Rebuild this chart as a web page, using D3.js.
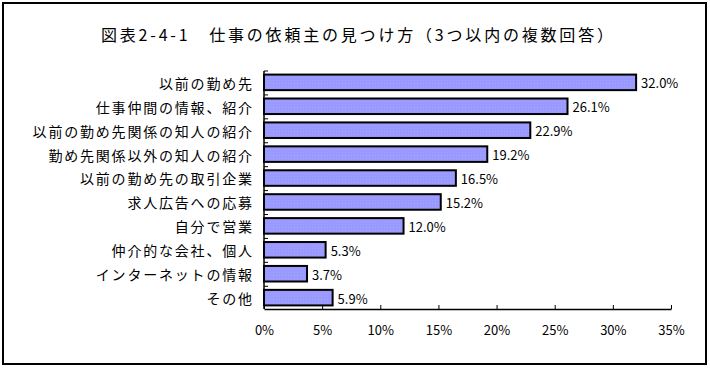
<!DOCTYPE html>
<html>
<head>
<meta charset="utf-8">
<script src="https://cdn.jsdelivr.net/npm/d3@7"></script>
<style>
  body { margin: 0; background: #fff; }
  text { font-family: "Noto Sans CJK JP", sans-serif; fill: #000; }
</style>
</head>
<body>
<div class="container"></div>
<script>
var categories = ["以前の勤め先", "仕事仲間の情報、紹介", "以前の勤め先関係の知人の紹介",
  "勤め先関係以外の知人の紹介", "以前の勤め先の取引企業", "求人広告への応募",
  "自分で営業", "仲介的な会社、個人", "インターネットの情報", "その他"];
var values = [32.0, 26.1, 22.9, 19.2, 16.5, 15.2, 12.0, 5.3, 3.7, 5.9];
var xTicks = [0, 5, 10, 15, 20, 25, 30, 35];
var title = "図表2-4-1　仕事の依頼主の見つけ方（3つ以内の複数回答）";

var W = 710, H = 368;
var margin = {top: 71, left: 264, right: 39, bottom: 59};
var width = W - margin.left - margin.right,
    height = H - margin.top - margin.bottom;

var svg = d3.select(".container").append("svg")
  .attr("width", W).attr("height", H);

// faint dotted fill like the original bars
var pat = svg.append("defs").append("pattern")
  .attr("id", "dots")
  .attr("patternUnits", "userSpaceOnUse")
  .attr("width", 3).attr("height", 3);
pat.append("rect").attr("width", 3).attr("height", 3).attr("fill", "#9999ff");
pat.append("rect").attr("width", 1).attr("height", 1).attr("fill", "#a6a6ff");

// outer frame
svg.append("rect")
  .attr("x", 3).attr("y", 3).attr("width", 703).attr("height", 361)
  .attr("fill", "none").attr("stroke", "#000").attr("stroke-width", 2);

// title, stretched to the width it has in the picture
svg.append("text")
  .attr("x", 101).attr("y", 41)
  .attr("textLength", 512)
  .attr("lengthAdjust", "spacing")
  .style("font-size", "16px")
  .text(title);

var g = svg.append("g")
  .attr("transform", "translate(" + margin.left + "," + margin.top + ")");

var x = d3.scaleLinear().domain([0, 35]).range([0, width]);
var y = d3.scaleBand().domain(categories).range([0, height]).paddingInner(0.35).paddingOuter(0.15);

// bars
g.selectAll("rect.bar")
  .data(values)
  .enter().append("rect")
    .attr("class", "bar")
    .attr("x", 0)
    .attr("y", function(d, i) { return y(categories[i]); })
    .attr("width", function(d) { return x(d); })
    .attr("height", y.bandwidth())
    .attr("fill", "url(#dots)")
    .attr("stroke", "#000")
    .attr("stroke-width", 2);

// value labels
g.selectAll("text.val")
  .data(values)
  .enter().append("text")
    .attr("class", "val")
    .attr("x", function(d) { return x(d) + 5; })
    .attr("y", function(d, i) { return y(categories[i]) + y.bandwidth() / 2 + 1.5; })
    .attr("dy", "0.35em")
    .style("font-size", "13px")
    .text(function(d) { return d.toFixed(1) + "%"; });

// x axis (ticks pointing inside)
var xAxis = g.append("g")
  .attr("transform", "translate(0," + height + ")")
  .call(d3.axisBottom(x).tickValues(xTicks).tickSizeInner(-4).tickSizeOuter(0)
    .tickFormat(function(d) { return d + "%"; }));
xAxis.selectAll("text").attr("y", 17).style("font-size", "13px").style("font-family", "\"Noto Sans CJK JP\", sans-serif");
xAxis.select(".domain").attr("stroke-width", 1.5);

// y axis: line plus short ticks at category boundaries
var yAxis = g.append("g");
yAxis.append("line")
  .attr("x1", 0).attr("x2", 0).attr("y1", 0).attr("y2", height)
  .attr("stroke", "#000").attr("stroke-width", 1.5);
var step = y.step();
yAxis.selectAll("line.tick")
  .data(categories)
  .enter().append("line")
    .attr("class", "tick")
    .attr("x1", 0).attr("x2", 4)
    .attr("y1", function(d) { return y(d) - y.paddingOuter() * step; })
    .attr("y2", function(d) { return y(d) - y.paddingOuter() * step; })
    .attr("stroke", "#000");
var ls = 1.8;
yAxis.selectAll("text")
  .data(categories)
  .enter().append("text")
    .attr("x", -12 + ls)
    .attr("y", function(d) { return y(d) + y.bandwidth() / 2 + 1.5; })
    .attr("dy", "0.35em")
    .attr("text-anchor", "end")
    .style("font-size", "14px")
    .style("letter-spacing", ls + "px")
    .text(function(d) { return d; });
</script>
</body>
</html>
